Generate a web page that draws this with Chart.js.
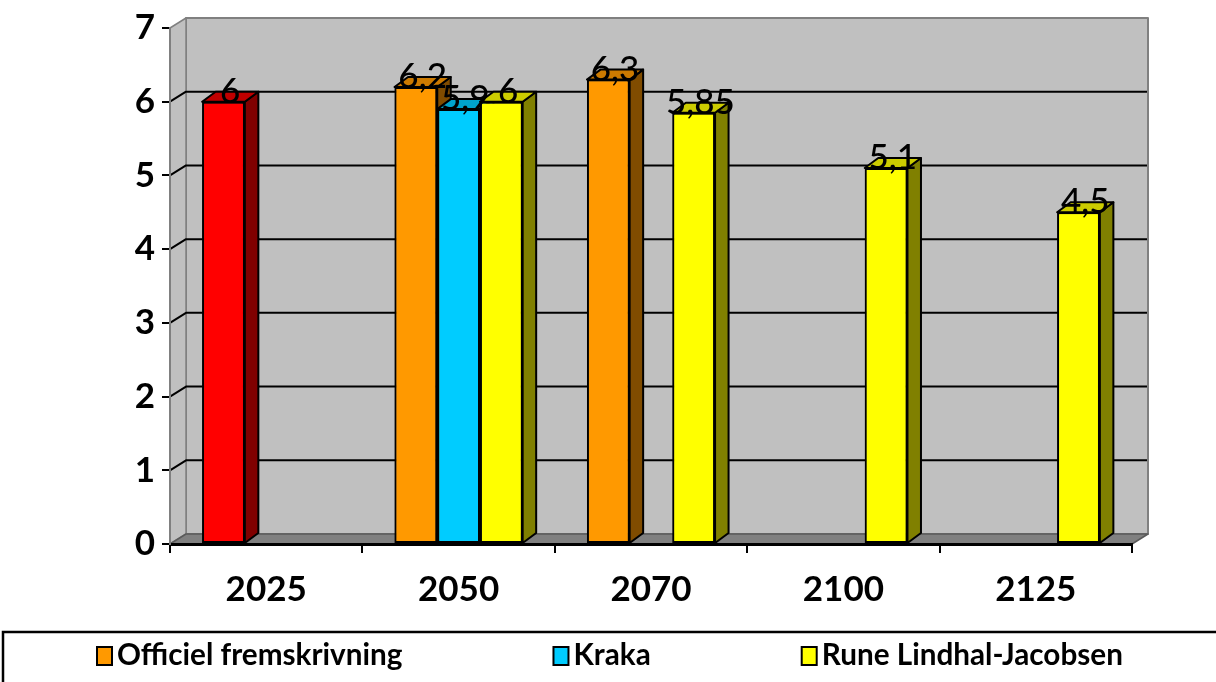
<!DOCTYPE html>
<html>
<head>
<meta charset="utf-8">
<script src="https://cdn.jsdelivr.net/npm/chart.js@4.4.1/dist/chart.umd.min.js"></script>
<style>
  html, body { margin: 0; padding: 0; background: #fff; }
  #wrap { width: 1216px; height: 682px; }
</style>
</head>
<body>
<div id="wrap"><canvas id="chart"></canvas></div>
<script>
// Categories, series and y ticks
const years = ['2025', '2050', '2070', '2100', '2125'];
const seriesNames = ['Officiel fremskrivning', 'Kraka', 'Rune Lindhal-Jacobsen'];
const officiel = [6, 6.2, 6.3, null, null];
const kraka = [null, 5.9, null, null, null];
const rune = [null, 6, 5.85, 5.1, 4.5];
const yTicks = [0, 1, 2, 3, 4, 5, 6, 7];

// front / side / top colours per series (the 2025 official bar is red)
const frontColors = [['#FF0000', '#FF9900', '#FF9900', '#FF9900', '#FF9900'], '#00CCFF', '#FFFF00'];
const sideColors = [['#800000', '#804C00', '#804C00', '#804C00', '#804C00'], '#006680', '#808000'];
const topColors = [['#C00000', '#CC7A00', '#CC7A00', '#CC7A00', '#CC7A00'], '#00A3CC', '#CCCC00'];
const legendColors = ['#FF9900', '#00CCFF', '#FFFF00'];

// fake 3d depth
const WALL_DX = 16, WALL_DY = -10;
const BAR_DX = 13.5, BAR_DY = -10;

const pick = (c, i) => Array.isArray(c) ? c[i] : c;

function poly(ctx, pts, fill, stroke, lw) {
    ctx.beginPath();
    ctx.moveTo(pts[0][0], pts[0][1]);
    for (let k = 1; k < pts.length; k++) ctx.lineTo(pts[k][0], pts[k][1]);
    ctx.closePath();
    if (fill) { ctx.fillStyle = fill; ctx.fill(); }
    if (stroke) { ctx.strokeStyle = stroke; ctx.lineWidth = lw; ctx.stroke(); }
}

const depth3d = {
    id: 'depth3d',
    beforeDraw(chart) {
        const { ctx, chartArea: a, scales: { y } } = chart;
        const x0 = a.left, x1 = a.right, yt = a.top, yb = a.bottom;
        ctx.save();
        ctx.lineJoin = 'round';
        // back wall
        poly(ctx, [[x0 + WALL_DX, yt + WALL_DY], [x1 + WALL_DX, yt + WALL_DY], [x1 + WALL_DX, yb + WALL_DY], [x0 + WALL_DX, yb + WALL_DY]], '#C0C0C0', '#808080', 2);
        // left wall
        poly(ctx, [[x0, yt], [x0 + WALL_DX, yt + WALL_DY], [x0 + WALL_DX, yb + WALL_DY], [x0, yb]], '#C0C0C0', '#808080', 1.5);
        // floor
        poly(ctx, [[x0, yb], [x0 + WALL_DX, yb + WALL_DY], [x1 + WALL_DX, yb + WALL_DY], [x1, yb]], '#808080', '#5A5A5A', 1.5);
        // gridlines on the side and back wall
        yTicks.forEach(v => {
            if (v === 0 || v === y.max) return;
            const py = y.getPixelForValue(v);
            ctx.strokeStyle = '#000';
            ctx.lineWidth = 2;
            ctx.beginPath();
            ctx.moveTo(x0, py);
            ctx.lineTo(x0 + WALL_DX, py + WALL_DY);
            ctx.lineTo(x1 + WALL_DX - 1, py + WALL_DY);
            ctx.stroke();
        });
        ctx.restore();
    },
    afterDatasetsDraw(chart) {
        const { ctx } = chart;
        const bars = [];
        chart.data.datasets.forEach((ds, di) => {
            chart.getDatasetMeta(di).data.forEach((bar, i) => {
                if (ds.data[i] == null) return;
                bars.push({ bar, di, i, v: ds.data[i] });
            });
        });
        bars.sort((p, q) => p.bar.x - q.bar.x);
        ctx.save();
        ctx.lineJoin = 'round';
        bars.forEach(({ bar, di, i }) => {
            const { x, y, base, width } = bar.getProps(['x', 'y', 'base', 'width'], true);
            const l = x - width / 2, r = x + width / 2;
            poly(ctx, [[r, y], [r + BAR_DX, y + BAR_DY], [r + BAR_DX, base + BAR_DY], [r, base]], pick(sideColors[di], i), '#000', 2);
            poly(ctx, [[l, y], [l + BAR_DX, y + BAR_DY], [r + BAR_DX, y + BAR_DY], [r, y]], pick(topColors[di], i), '#000', 2);
            bar.draw(ctx);
        });
        // value labels, danish decimal comma
        ctx.fillStyle = '#000';
        ctx.font = '500 35px Lato';
        ctx.textAlign = 'center';
        ctx.textBaseline = 'alphabetic';
        bars.forEach(({ bar, v }) => {
            ctx.fillText(String(v).replace('.', ','), bar.x + BAR_DX / 2, bar.y + 1);
        });
        ctx.restore();
    },
    afterDraw(chart) {
        const { ctx } = chart;
        ctx.save();
        // legend frame runs off the canvas at right and bottom
        ctx.strokeStyle = '#000';
        ctx.lineWidth = 2.5;
        ctx.strokeRect(3, 632, 1300, 100);
        ctx.font = 'bold 100px Lato';
        const size = 100 * 286 / ctx.measureText(seriesNames[0]).width;
        ctx.font = 'bold ' + size.toFixed(1) + 'px Lato';
        ctx.textAlign = 'left';
        ctx.textBaseline = 'alphabetic';
        let sx = 97;
        seriesNames.forEach((name, k) => {
            ctx.fillStyle = legendColors[k];
            ctx.fillRect(sx, 647, 15, 18);
            ctx.strokeStyle = '#000';
            ctx.lineWidth = 2;
            ctx.strokeRect(sx, 647, 15, 18);
            ctx.fillStyle = '#000';
            ctx.fillText(name, sx + 20, 665);
            sx += 20 + ctx.measureText(name).width + 151;
        });
        ctx.restore();
    }
};

const tickFont = { family: 'Lato', weight: 'bold', size: 35 };

const chart = new Chart(document.getElementById('chart'), {
    type: 'bar',
    data: {
        labels: years,
        datasets: [
            { label: seriesNames[0], data: officiel, backgroundColor: frontColors[0] },
            { label: seriesNames[1], data: kraka, backgroundColor: frontColors[1] },
            { label: seriesNames[2], data: rune, backgroundColor: frontColors[2] }
        ]
    },
    options: {
        responsive: true,
        maintainAspectRatio: false,
        animation: false,
        layout: { padding: { top: 24, right: 84, bottom: 0, left: 0 } },
        datasets: {
            bar: {
                categoryPercentage: 0.666,
                barPercentage: 1,
                borderColor: '#000',
                borderWidth: 2,
                borderSkipped: false
            }
        },
        plugins: {
            legend: { display: false },
            tooltip: { enabled: false }
        },
        scales: {
            x: {
                grid: { drawOnChartArea: false, drawTicks: true, tickLength: 9, color: '#000', lineWidth: 2, offset: true },
                border: { color: '#000', width: 3 },
                ticks: { font: tickFont, color: '#000', padding: 16 },
                afterFit(s) { s.height = 138; }
            },
            y: {
                min: 0,
                max: 7,
                afterBuildTicks(s) { s.ticks = yTicks.map(v => ({ value: v })); },
                grid: { drawOnChartArea: false, tickLength: 8, color: '#000', lineWidth: 2 },
                border: { color: '#808080', width: 2 },
                ticks: { font: tickFont, color: '#000', padding: 7 },
                afterFit(s) { s.width = 170; }
            }
        }
    },
    plugins: [depth3d]
});
</script>
</body>
</html>
